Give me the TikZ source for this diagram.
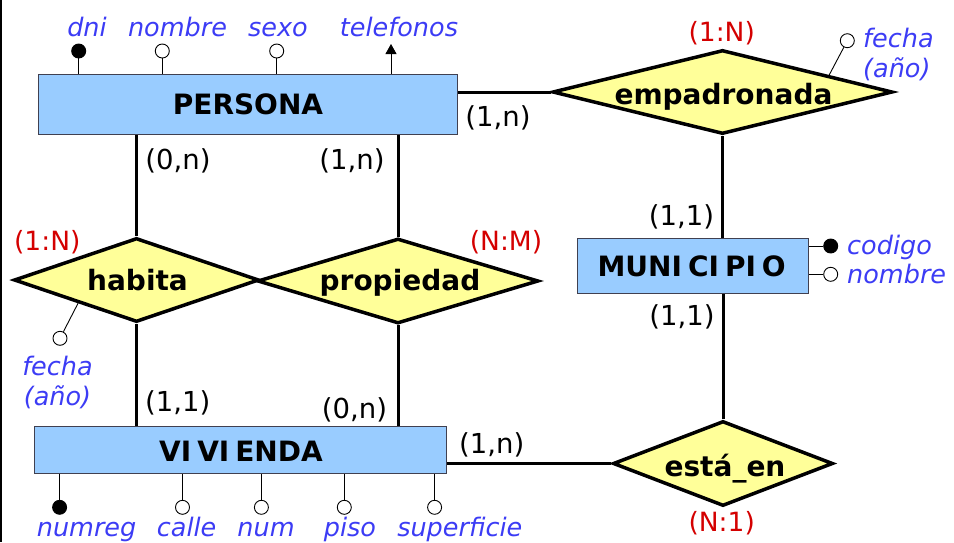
\documentclass[tikz,border=0pt]{standalone}
\usepackage{fontspec}
\setmainfont{DejaVu Sans}
\usetikzlibrary{shapes.geometric,arrows.meta,calc}
\definecolor{entfill}{HTML}{99CCFF}
\definecolor{relfill}{HTML}{FFFF99}
\definecolor{attblue}{HTML}{3C3CF5}
\definecolor{cardred}{HTML}{D40000}
\definecolor{entline}{HTML}{404050}
\begin{document}
\begin{tikzpicture}[x=1pt,y=-1pt,
  entity/.style={draw=entline, line width=1pt, fill=entfill, rectangle, inner sep=0pt},
  enttext/.style={font=\fontsize{28}{31}\selectfont\bfseries, inner sep=0pt},
  relation/.style={draw=black, line width=3.5pt, fill=relfill, diamond, inner sep=0pt},
  reltext/.style={font=\fontsize{28}{31}\selectfont\bfseries, inner sep=0pt, anchor=base},
  conn/.style={line width=3pt},
  attline/.style={line width=0.9pt},
  keyatt/.style={circle, draw, fill=black, minimum size=14pt, inner sep=0pt, line width=0.9pt},
  att/.style={circle, draw, fill=white, minimum size=14pt, inner sep=0pt, line width=0.9pt},
  attlabel/.style={text=attblue, font=\fontsize{25.5}{30}\selectfont\itshape, inner sep=0pt, anchor=base},
  card/.style={font=\fontsize{27.5}{31}\selectfont, inner sep=0pt, anchor=base},
  ratio/.style={text=cardred, font=\fontsize{26.5}{30}\selectfont, inner sep=0pt, anchor=base}]
\useasboundingbox (0,0) rectangle (954,542);
\draw[line width=2pt] (1,0) -- (1,542);

% entities
\node[entity, minimum width=419pt, minimum height=60pt] (per) at (247.5,104) {};
\node[enttext] at (248,104.7) {PERSONA};
\node[entity, minimum width=412pt, minimum height=47pt] (viv) at (240.2,450) {};
\node[enttext] at (241,451.7) {VI\kern6pt VI\kern6pt ENDA};
\node[entity, minimum width=231pt, minimum height=55pt] (muni) at (692.5,265.5) {};
\node[enttext] at (691.7,266.7) {MUNI\kern6pt CI\kern6pt PI\kern6pt O};

% relationships
\node[relation, minimum width=340pt, minimum height=84pt] (emp) at (722.5,92) {};
\node[reltext] at (723.5,104.5) {empadronada};
\node[relation, minimum width=245pt, minimum height=84pt] (hab) at (136.5,280) {};
\node[reltext] at (137.5,290) {habita};
\node[relation, minimum width=281pt, minimum height=85pt] (prop) at (398,281) {};
\node[reltext] at (400,290) {propiedad};
\node[relation, minimum width=220pt, minimum height=85pt] (est) at (723,463.5) {};
\node[reltext] at (725,476.7) {está\_en};

% connectors
\draw[conn] (emp.west) -- (emp.west -| per.east);
\draw[conn] (hab.north) -- (hab.north |- per.south);
\draw[conn] (prop.north) -- (prop.north |- per.south);
\draw[conn] (hab.south) -- (hab.south |- viv.north);
\draw[conn] (prop.south) -- (prop.south |- viv.north);
\draw[conn] (emp.south) -- (emp.south |- muni.north);
\draw[conn] (est.north) -- (est.north |- muni.south);
\draw[conn] (est.west) -- (est.west -| viv.east);

% PERSONA attributes
\node[keyatt] (dni) at (78.7,51) {};
\node[att] (pnom) at (162.3,51) {};
\node[att] (sexo) at (276.7,51) {};
\coordinate (tel) at (391,44);
\draw[attline] (dni) -- (dni |- per.north);
\draw[attline] (pnom) -- (pnom |- per.north);
\draw[attline] (sexo) -- (sexo |- per.north);
\draw[attline, -{Triangle[length=10pt,width=11pt]}] (tel |- per.north) -- (tel);
\node[attlabel] at (87,36.7) {dni};
\node[attlabel] at (177.5,36.7) {nombre};
\node[attlabel] at (278,36.7) {sexo};
\node[attlabel] at (399,36.7) {telefonos};

% empadronada attribute
\coordinate (empedge) at ($(emp.north)!0.62!(emp.east)$);
\node[att] (efecha) at (847.3,40.7) {};
\draw[attline] (efecha) -- (empedge);
\node[attlabel, anchor=base west] at (863,47) {fecha};
\node[attlabel, anchor=base west] at (863,77) {(año)};

% habita attribute
\coordinate (habedge) at ($(hab.south)!0.47!(hab.west)$);
\node[att] (hfecha) at (60,338.3) {};
\draw[attline] (hfecha) -- (habedge);
\node[attlabel] at (57.5,375) {fecha};
\node[attlabel] at (57.5,405) {(año)};

% MUNICIPIO attributes
\node[keyatt] (cod) at (830.7,246) {};
\node[att] (mnom) at (830.7,274.3) {};
\draw[attline] (cod) -- (cod -| muni.east);
\draw[attline] (mnom) -- (mnom -| muni.east);
\node[attlabel, anchor=base west] at (847,254) {codigo};
\node[attlabel, anchor=base west] at (847,283) {nombre};

% VIVIENDA attributes
\node[keyatt] (numreg) at (59.6,507.3) {};
\node[att] (calle) at (182.5,507.3) {};
\node[att] (num) at (261.4,507.3) {};
\node[att] (piso) at (344.3,507.3) {};
\node[att] (sup) at (434.6,507.3) {};
\draw[attline] (numreg) -- (numreg |- viv.south);
\draw[attline] (calle) -- (calle |- viv.south);
\draw[attline] (num) -- (num |- viv.south);
\draw[attline] (piso) -- (piso |- viv.south);
\draw[attline] (sup) -- (sup |- viv.south);
\node[attlabel] at (86.6,536.5) {numreg};
\node[attlabel] at (186.6,536.5) {calle};
\node[attlabel] at (266,536.5) {num};
\node[attlabel] at (350,536.5) {piso};
\node[attlabel] at (459.8,536.5) {superficie};

% cardinalities
\node[card] at (178,169) {(0,n)};
\node[card] at (352,169) {(1,n)};
\node[card] at (498,126.5) {(1,n)};
\node[card] at (177.7,411) {(1,1)};
\node[card] at (354.5,418) {(0,n)};
\node[card] at (681.5,225) {(1,1)};
\node[card] at (682,325) {(1,1)};
\node[card] at (491.7,453) {(1,n)};

% ratios
\node[ratio] at (721.7,41.7) {(1:N)};
\node[ratio] at (47.3,250) {(1:N)};
\node[ratio] at (506,250) {(N:M)};
\node[ratio] at (721.7,531.7) {(N:1)};
\end{tikzpicture}
\end{document}
